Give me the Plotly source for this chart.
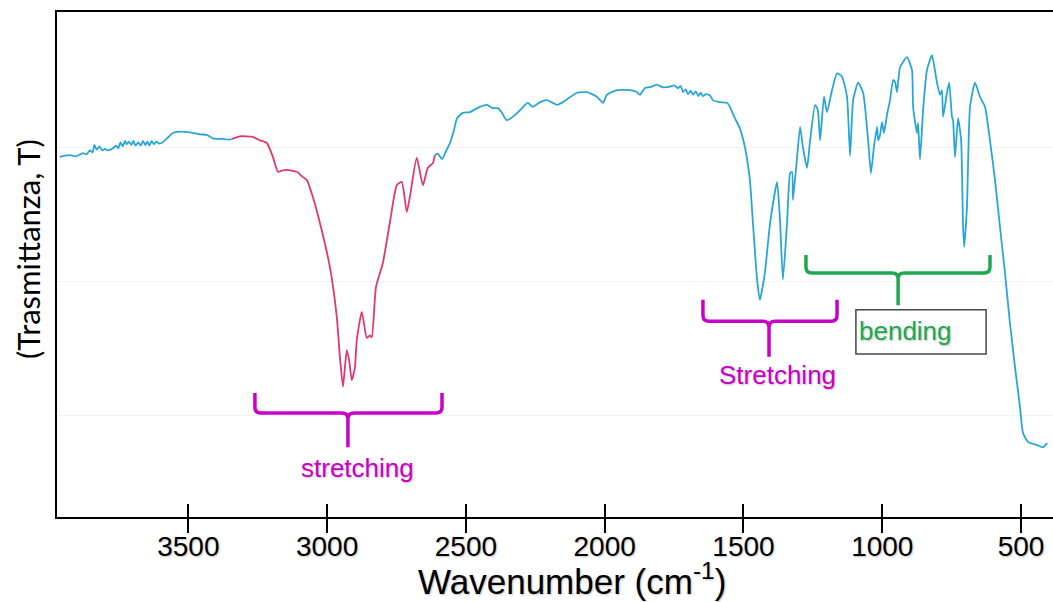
import plotly.graph_objects as go

# ---- spectrum data (wavenumber cm-1, transmittance arbitrary units) ----
wn_a = [3963, 3945, 3927, 3905, 3880, 3866, 3855, 3845, 3838, 3830, 3820, 3810, 3801, 3790,
        3780, 3772, 3760, 3752, 3745, 3736, 3728, 3722, 3714, 3705, 3698, 3690, 3680, 3671,
        3663, 3655, 3647, 3640, 3632, 3624, 3615, 3605, 3592, 3574, 3556, 3531, 3495, 3459,
        3433, 3412, 3379, 3350, 3343]
t_a = [58.5, 58.7, 58.8, 58.6, 59.1, 58.9, 59.5, 59.2, 60.3, 59.6, 60.1, 59.5, 59.7, 59.5,
       59.6, 59.8, 60.2, 59.8, 60.7, 60.1, 60.9, 60.4, 60.8, 60.3, 60.9, 60.2, 60.7, 60.2,
       60.9, 60.3, 60.8, 60.2, 60.9, 60.4, 60.8, 60.5, 60.7, 61.4, 62.1, 62.3, 62.2, 61.9,
       61.8, 61.3, 61.2, 61.1, 61.2]

wn_b = [3343, 3314, 3268, 3242, 3217, 3195, 3177, 3160, 3145, 3109, 3087, 3073, 3051, 3026,
        2990, 2965, 2954, 2943, 2935, 2929, 2920, 2911, 2900, 2893, 2875, 2857, 2846, 2839,
        2824, 2799, 2774, 2749, 2731, 2713, 2702, 2677, 2655, 2637, 2619, 2612]
t_b = [61.2, 61.6, 61.5, 61.0, 60.6, 58.5, 56.3, 56.5, 56.6, 56.3, 55.5, 55.1, 52.5, 48.7,
       42.1, 34.6, 28.7, 24.2, 27.5, 29.7, 28.0, 25.2, 27.0, 31.2, 35.4, 31.5, 31.9, 31.6,
       39.1, 42.7, 48.7, 54.3, 54.8, 50.3, 52.5, 58.4, 54.3, 56.9, 57.6, 58.8]

wn_c = [2612, 2601, 2586, 2568, 2558, 2543, 2532, 2511, 2486, 2450, 2424, 2403, 2385, 2370,
        2359, 2352, 2331, 2305, 2277, 2259, 2233, 2208, 2172, 2150, 2100, 2064, 2028, 2006,
        1992, 1956, 1909, 1884, 1873, 1855, 1830, 1812, 1790, 1765, 1750, 1736, 1726, 1718,
        1708, 1700, 1690, 1682, 1672, 1662, 1654, 1646, 1635, 1621, 1610, 1585, 1559, 1549,
        1531, 1513, 1495, 1477, 1466, 1451, 1441, 1423, 1404, 1379, 1368, 1358, 1343, 1332,
        1325, 1322, 1311, 1296, 1286, 1271, 1260, 1242, 1232, 1224, 1210, 1199, 1181, 1163,
        1145, 1127, 1116, 1105, 1087, 1069, 1051, 1041, 1030, 1019, 1015, 1008, 1001, 994,
        983, 972, 961, 954, 947, 936, 911, 893, 889, 875, 871, 864, 853, 839, 821, 803, 792,
        785, 781, 767, 759, 749, 745, 738, 727, 716, 709, 705, 695, 684, 666, 648, 630, 612,
        594, 576, 558, 540, 522, 504, 493, 475, 442, 421, 406]
t_c = [58.8, 59.0, 58.2, 59.7, 60.5, 62.5, 64.3, 65.1, 65.2, 66.0, 66.3, 65.8, 65.8, 65.1,
       64.3, 64.0, 64.5, 65.5, 66.6, 66.0, 66.7, 67.0, 66.3, 66.7, 68.1, 68.2, 67.5, 66.6,
       67.8, 68.5, 68.5, 68.2, 67.8, 68.8, 69.0, 69.3, 68.9, 69.0, 69.2, 68.8, 69.1, 68.2,
       68.6, 67.9, 68.4, 67.8, 68.3, 67.6, 68.1, 67.6, 67.9, 67.7, 67.0, 66.7, 66.6, 66.0,
       64.3, 62.8, 60.0, 55.1, 48.7, 40.2, 37.2, 41.2, 48.7, 54.8, 48.7, 40.2, 48.7, 56.1,
       56.3, 52.1, 56.6, 63.0, 60.0, 56.9, 61.0, 66.3, 65.5, 61.0, 67.5, 65.2, 68.5, 71.0,
       70.5, 67.5, 58.7, 67.0, 69.6, 68.1, 61.0, 56.1, 60.0, 63.0, 61.0, 61.8, 63.7, 62.1,
       64.8, 67.0, 70.0, 69.7, 68.2, 71.9, 73.4, 71.5, 66.0, 62.1, 63.6, 58.1, 65.5, 71.5,
       73.7, 69.6, 67.8, 68.5, 64.5, 68.1, 69.6, 64.5, 64.0, 58.5, 64.3, 61.0, 48.1, 45.1,
       51.0, 66.0, 69.6, 67.5, 66.0, 61.0, 55.1, 48.1, 41.2, 33.7, 27.2, 21.2, 17.3, 16.0,
       15.5, 15.2, 15.8]

tick_vals = [3500, 3000, 2500, 2000, 1500, 1000, 500]
tick_text = ["3500", "3000", "2500", "2000", "1500", "1000", "500"]

# bracket spans (cm-1) and levels (T units)
br1 = dict(xl=3260, xr=2586, xc=2925, ytop=23.3, ybar=20.3, yend=15.2)
br2 = dict(xl=1646, xr=1163, xc=1408, ytop=37.2, ybar=34.0, yend=28.7)
br3 = dict(xl=1275, xr=612, xc=943, ytop=43.9, ybar=41.2, yend=36.4)

X_RANGE = [3973, 385]
Y_RANGE = [4.78, 80.15]
W, H = 1053, 602
ML, MR, MT, MB = 57, 0, 12, 85

BLUE = "#2aa6d6"
RED = "#e0386f"
MAG = "#c800c8"
GREEN = "#1fa84f"

dxpp = (X_RANGE[0] - X_RANGE[1]) / (W - ML - MR)
dypp = (Y_RANGE[1] - Y_RANGE[0]) / (H - MT - MB)


def brace(b, rpx=6):
    rx, ry = rpx * dxpp, rpx * dypp
    xl, xr, xc = b["xl"], b["xr"], b["xc"]
    yt, yb, ye = b["ytop"], b["ybar"], b["yend"]
    p = (f"M {xl},{yt} L {xl},{yb+ry} Q {xl},{yb} {xl-rx},{yb} L {xc+rx},{yb} "
         f"Q {xc},{yb} {xc},{yb-ry} L {xc},{ye} "
         f"M {xr},{yt} L {xr},{yb+ry} Q {xr},{yb} {xr+rx},{yb} L {xc-rx},{yb} "
         f"Q {xc},{yb} {xc},{yb-ry}")
    return p


fig = go.Figure()
for xs, ys, col in [(wn_a, t_a, BLUE), (wn_b, t_b, RED), (wn_c, t_c, BLUE)]:
    fig.add_trace(go.Scatter(x=xs, y=ys, mode="lines",
                             line=dict(color=col, width=1.8, shape="spline", smoothing=0.5),
                             showlegend=False, hoverinfo="skip"))

# invisible traces on overlay axes (inside / outside tick marks)
for ax in ["x2", "x3"]:
    fig.add_trace(go.Scatter(x=[tick_vals[0]], y=[Y_RANGE[0]], xaxis=ax, mode="markers",
                             marker=dict(opacity=0), showlegend=False, hoverinfo="skip"))

shapes = []
for b, col in [(br1, MAG), (br2, MAG), (br3, GREEN)]:
    shapes.append(dict(type="path", path=brace(b), xref="x", yref="y",
                       line=dict(color=col, width=3.5)))
shapes.append(dict(type="rect", xref="x", yref="y", x0=1095, x1=626, y0=29.1, y1=35.7,
                   line=dict(color="#3f4852", width=1.5), fillcolor="rgba(0,0,0,0)"))

shadow = "1px 1px 2px rgba(0,0,0,0.25)"
ann = [
    dict(text="stretching", x=2889, y=12.1, xref="x", yref="y", showarrow=False,
         font=dict(family="Liberation Sans", size=26, color=MAG, shadow=shadow)),
    dict(text="Stretching", x=1379, y=26.0, xref="x", yref="y", showarrow=False,
         font=dict(family="Liberation Sans", size=26, color=MAG, shadow=shadow)),
    dict(text="bending", x=1090, y=32.6, xref="x", yref="y", showarrow=False, xanchor="left",
         font=dict(family="Liberation Sans", size=26, color=GREEN, shadow=shadow)),
    dict(text="(Trasmittanza, T)", x=0, xshift=-29, y=(517 - 249) / 505, xref="paper",
         yref="paper", showarrow=False, textangle=-90, xanchor="center", yanchor="middle",
         font=dict(family="Lato", size=31, color="black")),
    dict(text="Wavenumber (cm<sup>-1</sup>)", x=(572 - ML) / (W - ML - MR), y=(517 - 579) / 505,
         xref="paper", yref="paper", showarrow=False, xanchor="center", yanchor="middle",
         font=dict(family="Liberation Sans", size=35, color="black", shadow=shadow)),
]

tick_common = dict(range=X_RANGE, tickvals=tick_vals, showgrid=False, zeroline=False,
                   tickcolor="black", tickwidth=2)

fig.update_layout(
    width=W, height=H, margin=dict(l=ML, r=MR, t=MT, b=MB),
    paper_bgcolor="white", plot_bgcolor="white",
    shapes=shapes, annotations=ann,
    xaxis=dict(**tick_common, ticktext=tick_text,
               showline=True, linecolor="black", linewidth=1.5, mirror=True,
               ticks="outside", ticklen=4,
               tickfont=dict(family="Liberation Sans", size=28, color="black", shadow=shadow)),
    xaxis2=dict(**tick_common, overlaying="x", anchor="y", side="bottom",
                showticklabels=False, showline=False, ticks="inside", ticklen=13),
    xaxis3=dict(**tick_common, overlaying="x", anchor="y", side="bottom",
                showticklabels=False, showline=False, ticks="outside", ticklen=15),
    yaxis=dict(range=Y_RANGE, showticklabels=False, ticks="", tickvals=[20, 40, 60],
               showgrid=True, gridcolor="#f3f3f3", gridwidth=1, zeroline=False,
               showline=True, linecolor="black", linewidth=1.5),
)

fig.write_html("out.html")
